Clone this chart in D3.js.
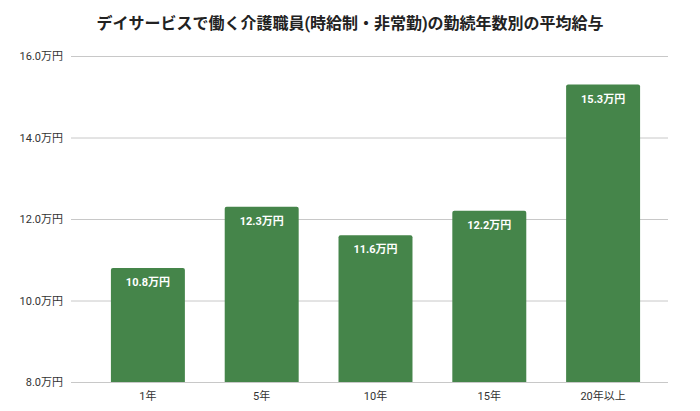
<!DOCTYPE html>
<html>
<head>
<meta charset="utf-8">
<script src="https://cdn.jsdelivr.net/npm/d3@7"></script>
<style>
  body { margin: 0; background: #fff; }
  svg text { font-family: Roboto, "Noto Sans CJK JP", sans-serif; }
</style>
</head>
<body>
<svg id="chart" width="700" height="411"></svg>
<script>
// data
var categories = ["1年", "5年", "10年", "15年", "20年以上"];
var salaries = [10.8, 12.3, 11.6, 12.2, 15.3];
var yTicks = [8, 10, 12, 14, 16];

var svg = d3.select("#chart");

svg.append("text")
    .attr("x", 350)
    .attr("y", 29)
    .attr("text-anchor", "middle")
    .attr("font-size", 16)
    .attr("font-weight", "bold")
    .attr("fill", "#222")
    .text("デイサービスで働く介護職員(時給制・非常勤)の勤続年数別の平均給与");

var y = d3.scaleLinear().domain([8, 16]).range([382, 56]);
var x = d3.scaleBand().domain(categories).range([91, 660]).paddingInner(0.35).paddingOuter(0.175);

// grid lines + y labels
var yAxis = d3.axisLeft(y)
    .tickValues(yTicks)
    .tickSize(-(668 - 71))
    .tickPadding(8)
    .tickFormat(function (d) { return d.toFixed(1) + "万円"; });

var yg = svg.append("g")
    .attr("transform", "translate(71,0)")
    .call(yAxis);
yg.select(".domain").remove();
yg.selectAll(".tick line").attr("stroke", "#c8c8c8").attr("stroke-width", 1);
yg.selectAll(".tick text").attr("font-size", 11).attr("fill", "#333")
    .attr("font-family", "Roboto, 'Noto Sans CJK JP', sans-serif");

// bars
svg.selectAll("path.bar")
    .data(salaries)
    .enter().append("path")
    .attr("class", "bar")
    .attr("fill", "#45854a")
    .attr("d", function (d, i) {
        var x0 = x(categories[i]), w = x.bandwidth();
        var top = y(d), bottom = y(8), r = 2;
        return "M" + x0 + "," + bottom +
            "V" + (top + r) +
            "Q" + x0 + "," + top + " " + (x0 + r) + "," + top +
            "H" + (x0 + w - r) +
            "Q" + (x0 + w) + "," + top + " " + (x0 + w) + "," + (top + r) +
            "V" + bottom + "Z";
    });

// value labels
svg.selectAll("text.val")
    .data(salaries)
    .enter().append("text")
    .attr("class", "val")
    .attr("x", function (d, i) { return x(categories[i]) + x.bandwidth() / 2; })
    .attr("y", function (d) { return y(d) + 18; })
    .attr("text-anchor", "middle")
    .attr("font-size", 11)
    .attr("font-weight", "bold")
    .attr("fill", "#fff")
    .text(function (d) { return d.toFixed(1) + "万円"; });

// x labels
var xAxis = d3.axisBottom(x).tickSize(0).tickPadding(10);
var xg = svg.append("g")
    .attr("transform", "translate(0,382)")
    .call(xAxis);
xg.select(".domain").remove();
xg.selectAll(".tick text").attr("font-size", 11).attr("fill", "#333")
    .attr("font-family", "Roboto, 'Noto Sans CJK JP', sans-serif");
</script>
</body>
</html>
